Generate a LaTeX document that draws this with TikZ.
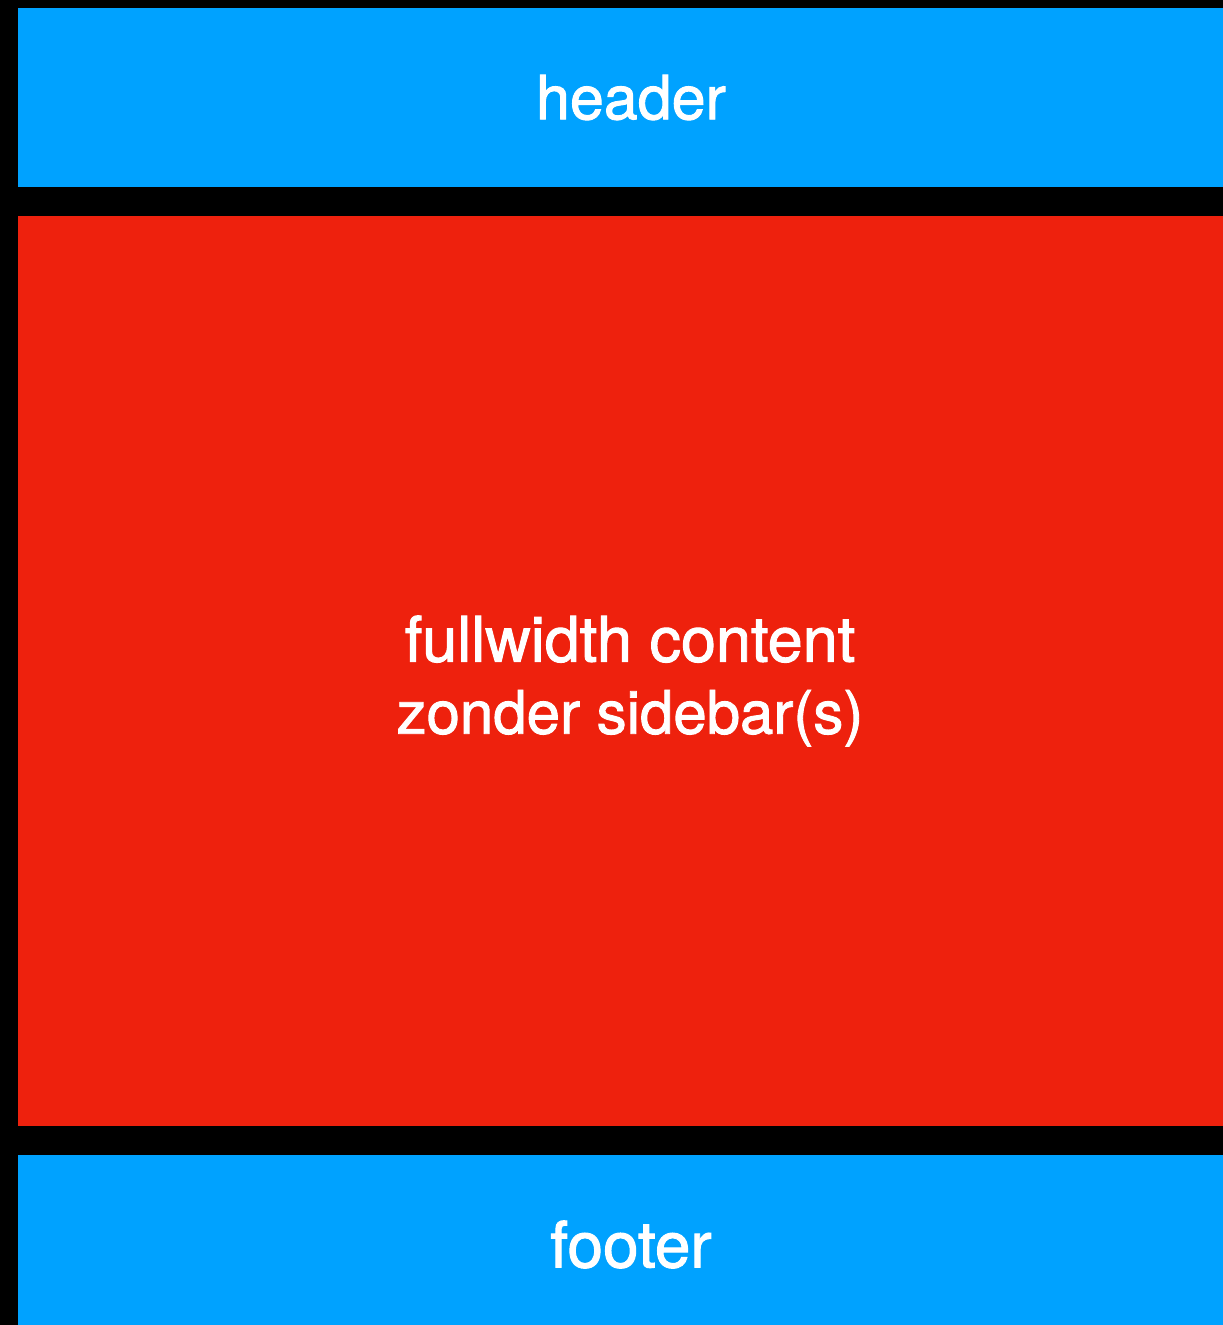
\documentclass[tikz,border=0pt]{standalone}
\usepackage{fontspec}
\newfontfamily\labelfont{TeX Gyre Heros}
\definecolor{barblue}{HTML}{00A2FF}
\definecolor{mainred}{HTML}{EE210D}
\tikzset{
  blocktext/.style={inner sep=0pt, text=white, align=center}
}
\begin{document}
\begin{tikzpicture}[x=1pt,y=-1pt]
   \fill[black] (0,0) rectangle (1223,1325);
   \useasboundingbox (0,0) rectangle (1223,1325);

   % the three bars
   \fill[barblue] (18,8) rectangle (1223,187);
   \fill[mainred] (18,216) rectangle (1223,1126);
   \fill[barblue] (18,1155) rectangle (1223,1325);

   \node[blocktext, font=\labelfont\addfontfeature{FakeBold=1.5}\fontsize{61}{72}\selectfont] (header) at (631,97.5) {header};
   \node[blocktext, font=\labelfont\addfontfeature{FakeBold=1.5}\fontsize{61}{72}\selectfont] (content) at (630,681)
     {{\fontsize{63}{72}\selectfont fullwidth content}\\{\fontsize{60}{72}\selectfont zonder sidebar(s)}};
   \node[blocktext, font=\labelfont\addfontfeature{FakeBold=1.5}\fontsize{64}{72}\selectfont] (footer) at (631,1244.5) {footer};

\end{tikzpicture}
\end{document}
